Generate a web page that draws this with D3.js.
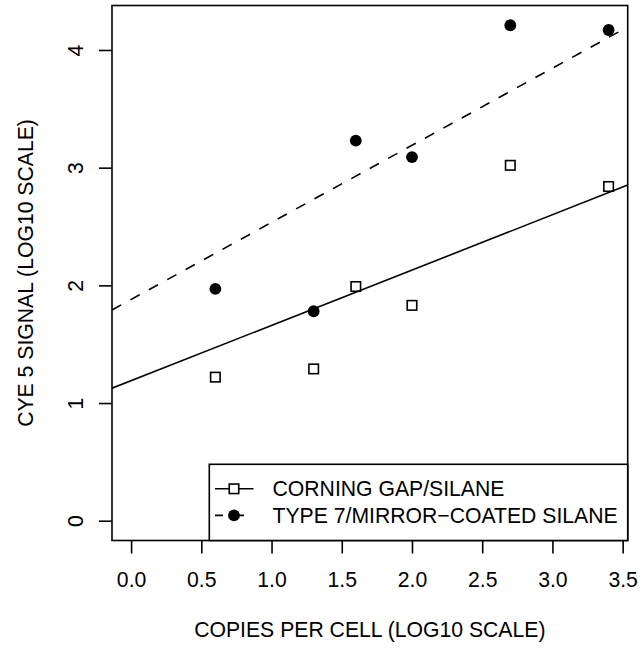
<!DOCTYPE html>
<html>
<head>
<meta charset="utf-8">
<script src="https://cdn.jsdelivr.net/npm/d3@7"></script>
<style>
  html, body { margin: 0; padding: 0; background: #fff; }
  svg { display: block; }
  text { font-family: "Liberation Sans", Arial, Helvetica, sans-serif; fill: #000; }
</style>
</head>
<body>
<svg id="chart" width="641" height="648"></svg>
<script>
// ---- data ----
const xValues = [0.6, 1.3, 1.6, 2.0, 2.7, 3.4];
const corningValues = [1.22, 1.29, 1.99, 1.83, 3.02, 2.84];
const type7Values = [1.97, 1.78, 3.23, 3.09, 4.21, 4.17];
// fitted lines: [intercept, slope]
const corningFit = [1.19, 0.47];
const type7Fit = [1.88, 0.655];
const xTicks = [0.0, 0.5, 1.0, 1.5, 2.0, 2.5, 3.0, 3.5];
const yTicks = [0, 1, 2, 3, 4];
const seriesNames = ["CORNING GAP/SILANE", "TYPE 7/MIRROR\u2212COATED SILANE"];
const xTitle = "COPIES PER CELL (LOG10 SCALE)";
const yTitle = "CYE 5 SIGNAL (LOG10 SCALE)";

// ---- layout ----
const plot = { left: 112, right: 627.7, top: 5.5, bottom: 540.5 };
const fontSize = 21.2;
const lw = 1.6;

const svg = d3.select("#chart");
const x = d3.scaleLinear().domain([-0.136, 3.536]).range([plot.left, plot.right]);
const y = d3.scaleLinear().domain([-0.168, 4.378]).range([plot.bottom, plot.top]);

svg.append("defs").append("clipPath").attr("id", "clip")
  .append("rect")
  .attr("x", plot.left).attr("y", plot.top)
  .attr("width", plot.right - plot.left).attr("height", plot.bottom - plot.top);

// axes
const xAxis = svg.append("g")
  .attr("transform", `translate(0,${plot.bottom})`)
  .call(d3.axisBottom(x).tickValues(xTicks).tickSize(13).tickFormat(d3.format(".1f")));
xAxis.select(".domain").remove();
xAxis.attr("font-family", null).attr("font-size", null);
xAxis.selectAll(".tick line").attr("stroke", "#000").attr("stroke-width", lw);
xAxis.selectAll(".tick text")
  .attr("y", 46.3).attr("dy", null)
  .attr("font-size", fontSize);

const yAxis = svg.append("g")
  .attr("transform", `translate(${plot.left},0)`)
  .call(d3.axisLeft(y).tickValues(yTicks).tickSize(13).tickFormat(d3.format("d")));
yAxis.select(".domain").remove();
yAxis.attr("font-family", null).attr("font-size", null);
yAxis.selectAll(".tick line").attr("stroke", "#000").attr("stroke-width", lw);
yAxis.selectAll(".tick text")
  .attr("x", 0).attr("y", 0).attr("dy", null)
  .attr("text-anchor", "middle")
  .attr("transform", "translate(-29,0) rotate(-90)")
  .attr("font-size", fontSize);
svg.selectAll(".tick text").style("fill", "#000");

// fit lines
const lines = svg.append("g").attr("clip-path", "url(#clip)");
function fitLine(fit, dash) {
  const xs = x.domain();
  lines.append("line")
    .attr("x1", x(xs[0])).attr("y1", y(fit[0] + fit[1] * xs[0]))
    .attr("x2", x(xs[1])).attr("y2", y(fit[0] + fit[1] * xs[1]))
    .attr("stroke", "#000").attr("stroke-width", lw)
    .attr("stroke-dasharray", dash);
}
fitLine(corningFit, null);
fitLine(type7Fit, "10.5,10.5");

// points
const sq = 9.5;
svg.append("g").selectAll("rect")
  .data(xValues.map((d, i) => [d, corningValues[i]]))
  .join("rect")
  .attr("x", d => x(d[0]) - sq / 2).attr("y", d => y(d[1]) - sq / 2)
  .attr("width", sq).attr("height", sq)
  .attr("fill", "none").attr("stroke", "#000").attr("stroke-width", lw);

svg.append("g").selectAll("circle")
  .data(xValues.map((d, i) => [d, type7Values[i]]))
  .join("circle")
  .attr("cx", d => x(d[0])).attr("cy", d => y(d[1]))
  .attr("r", 5.9).attr("fill", "#000");

// box
svg.append("rect")
  .attr("x", plot.left).attr("y", plot.top)
  .attr("width", plot.right - plot.left).attr("height", plot.bottom - plot.top)
  .attr("fill", "none").attr("stroke", "#000").attr("stroke-width", lw);

// legend
const leg = { left: 209.3, top: 464.3 };
const lg = svg.append("g");
lg.append("rect")
  .attr("x", leg.left).attr("y", leg.top)
  .attr("width", plot.right - leg.left).attr("height", plot.bottom - leg.top)
  .attr("fill", "#fff").attr("stroke", "#000").attr("stroke-width", lw);
const rows = [488.8, 515.4];
seriesNames.forEach((name, i) => {
  const cy = rows[i];
  lg.append("line")
    .attr("x1", 215).attr("x2", 253.5).attr("y1", cy).attr("y2", cy)
    .attr("stroke", "#000").attr("stroke-width", lw)
    .attr("stroke-dasharray", i === 1 ? "10.5,10.5" : null)
    .attr("stroke-dashoffset", i === 1 ? 2.5 : null);
  if (i === 0) {
    lg.append("rect").attr("x", 234 - sq / 2).attr("y", cy - sq / 2)
      .attr("width", sq).attr("height", sq)
      .attr("fill", "#fff").attr("stroke", "#000").attr("stroke-width", lw);
  } else {
    lg.append("circle").attr("cx", 234).attr("cy", cy).attr("r", 5.9).attr("fill", "#000");
  }
  lg.append("text")
    .attr("x", 272.5).attr("y", cy).attr("dy", "0.36em")
    .attr("font-size", fontSize).text(name);
});

// titles
svg.append("text")
  .attr("x", (plot.left + plot.right) / 2).attr("y", 636.5)
  .attr("text-anchor", "middle").attr("font-size", fontSize).text(xTitle);
svg.append("text")
  .attr("transform", `translate(32.5,${(plot.top + plot.bottom) / 2}) rotate(-90)`)
  .attr("text-anchor", "middle").attr("font-size", fontSize).text(yTitle);
</script>
</body>
</html>
